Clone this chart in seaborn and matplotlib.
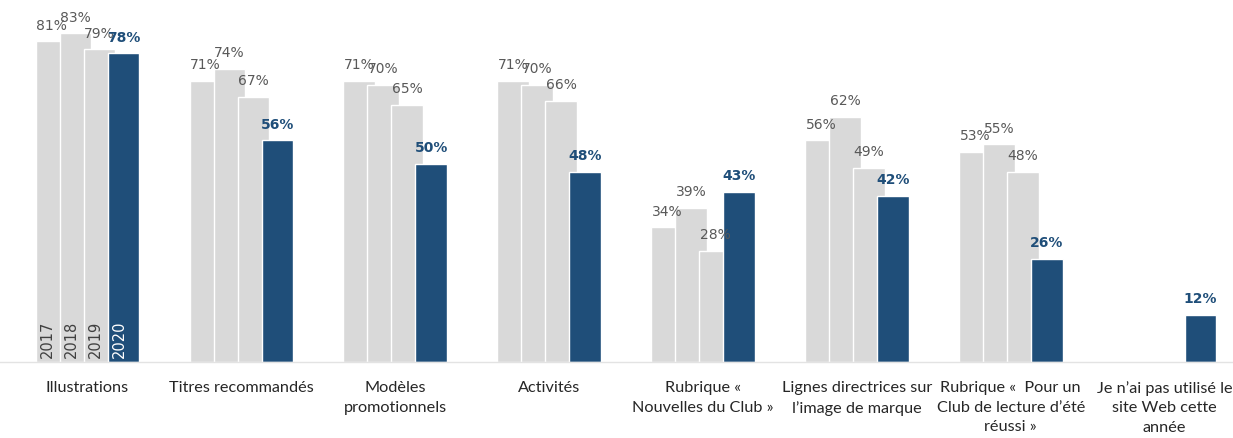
import numpy as np
import pandas as pd
import matplotlib
matplotlib.use("Agg")
import matplotlib.pyplot as plt
import seaborn as sns

# Data
categories = [
    "Illustrations",
    "Titres recommandés",
    "Modèles\npromotionnels",
    "Activités",
    "Rubrique «\nNouvelles du Club »",
    "Lignes directrices sur\nl’image de marque",
    "Rubrique «  Pour un\nClub de lecture d’été\nréussi »",
    "Je n’ai pas utilisé le\nsite Web cette\nannée",
]
years = ["2017", "2018", "2019", "2020"]
v2017 = [81, 71, 71, 71, 34, 56, 53, np.nan]
v2018 = [83, 74, 70, 70, 39, 62, 55, np.nan]
v2019 = [79, 67, 65, 66, 28, 49, 48, np.nan]
v2020 = [78, 56, 50, 48, 43, 42, 26, 12]
series = [v2017, v2018, v2019, v2020]

GRAY = "#d9d9d9"
BLUE = "#1f4e79"
GRAY_TXT = "#595959"

sns.set_theme(style="white")
plt.rcParams["font.family"] = ["DejaVu Sans"]

fig = plt.figure(figsize=(12.33, 4.39), dpi=100)
ax = fig.add_axes([0.0, 0.173, 1.0, 0.827])

step = 0.156   # shift between overlapping bars
width = 0.205  # each bar width
idx = np.arange(len(categories))

for k, (yr, vals) in enumerate(zip(years, series)):
    off = (k - 1.5) * step
    df = pd.DataFrame({"x": idx + off, "val": vals}).dropna()
    color = BLUE if yr == "2020" else GRAY
    sns.barplot(data=df, x="x", y="val", native_scale=True, width=width,
                color=color, saturation=1, edgecolor="white", linewidth=1,
                errorbar=None, ax=ax)
    for xi, v in zip(df["x"], df["val"]):
        if yr == "2020":
            ax.annotate(f"{int(v)}%", (xi, v), xytext=(0, 7), textcoords="offset points",
                        ha="center", va="bottom", fontsize=10, fontweight="bold", color=BLUE)
        else:
            ax.annotate(f"{int(v)}%", (xi, v), xytext=(0, 7), textcoords="offset points",
                        ha="center", va="bottom", fontsize=10, color=GRAY_TXT)
    # year label inside first group
    ax.text(off - width / 2 + step / 2, 1.2, yr, rotation=90, ha="center", va="bottom",
            fontsize=10.5, color="white" if yr == "2020" else "#404040")

ax.set_xlim(-0.568, 7.444)
ax.set_ylim(0, 91.7)
ax.set_xticks(idx)
ax.set_xticklabels(categories, fontsize=11.7, family=["Lato", "DejaVu Sans"],
                   color="#262626", linespacing=1.5)
ax.tick_params(axis="x", length=0, pad=13)
ax.set_yticks([])
ax.set_xlabel("")
ax.set_ylabel("")
for s in ["top", "right", "left"]:
    ax.spines[s].set_visible(False)
ax.spines["bottom"].set_color("#e3e3e3")
ax.spines["bottom"].set_linewidth(1)

fig.savefig("out.png", dpi=100)
